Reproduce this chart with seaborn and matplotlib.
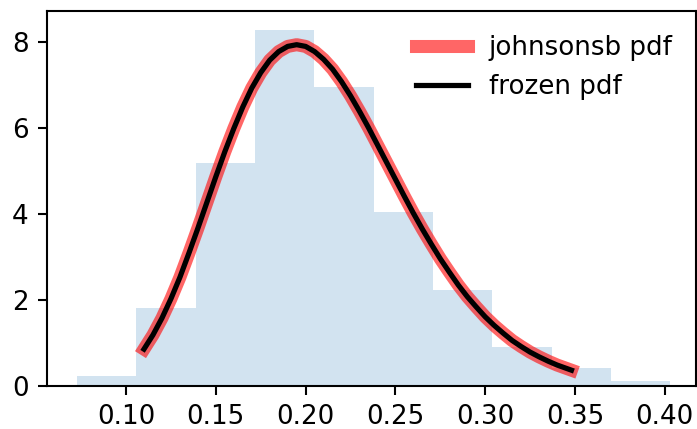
import numpy as np
import matplotlib
matplotlib.use("Agg")
import matplotlib.pyplot as plt
import seaborn as sns

# histogram (density per bin)
bin_edges = [0.0727, 0.1057, 0.1388, 0.1719, 0.2046, 0.2378,
             0.2709, 0.3039, 0.3370, 0.3700, 0.4031]
bin_heights = [0.24, 1.82, 5.20, 8.29, 6.95, 4.05, 2.24, 0.91, 0.42, 0.12]

# pdf curve points
pdf_x = [0.110, 0.115, 0.120, 0.125, 0.130, 0.135, 0.140, 0.145, 0.150,
         0.155, 0.160, 0.165, 0.170, 0.175, 0.180, 0.185, 0.190, 0.195,
         0.200, 0.205, 0.210, 0.215, 0.220, 0.225, 0.230, 0.235, 0.240,
         0.245, 0.250, 0.255, 0.260, 0.265, 0.270, 0.275, 0.280, 0.285,
         0.290, 0.295, 0.300, 0.305, 0.310, 0.315, 0.320, 0.325, 0.330,
         0.335, 0.340, 0.348]
pdf_y = [0.86, 1.19, 1.58, 2.03, 2.53, 3.09, 3.67, 4.27, 4.87,
         5.45, 5.99, 6.49, 6.93, 7.29, 7.58, 7.78, 7.90, 7.94,
         7.90, 7.78, 7.60, 7.37, 7.08, 6.75, 6.39, 6.01, 5.61,
         5.21, 4.81, 4.41, 4.02, 3.65, 3.30, 2.96, 2.65, 2.35,
         2.08, 1.84, 1.61, 1.41, 1.23, 1.06, 0.92, 0.79, 0.68,
         0.58, 0.49, 0.37]

dpi = 188
fig, ax = plt.subplots(figsize=(697 / dpi, 429 / dpi), dpi=dpi)
fig.subplots_adjust(left=0.0674, right=0.999, bottom=0.100, top=0.974)

centers = [(a + b) / 2 for a, b in zip(bin_edges[:-1], bin_edges[1:])]
sns.histplot(x=centers, weights=bin_heights, bins=bin_edges, stat="count",
             element="step", fill=True, alpha=0.2, linewidth=0,
             color="C0", ax=ax)

sns.lineplot(x=pdf_x, y=pdf_y, color="r", lw=5, alpha=0.6,
             label="johnsonsb pdf", ax=ax, sort=False)
sns.lineplot(x=pdf_x, y=pdf_y, color="k", lw=2,
             label="frozen pdf", ax=ax, sort=False)

ax.set_xlim(0.056, 0.4175)
ax.set_ylim(0, 8.72)
ax.set_xticks([0.10, 0.15, 0.20, 0.25, 0.30, 0.35, 0.40])
ax.set_yticks([0, 2, 4, 6, 8])
ax.set_xlabel("")
ax.set_ylabel("")
ax.legend(loc="best", frameon=False)

fig.savefig("out.png", dpi=dpi)
